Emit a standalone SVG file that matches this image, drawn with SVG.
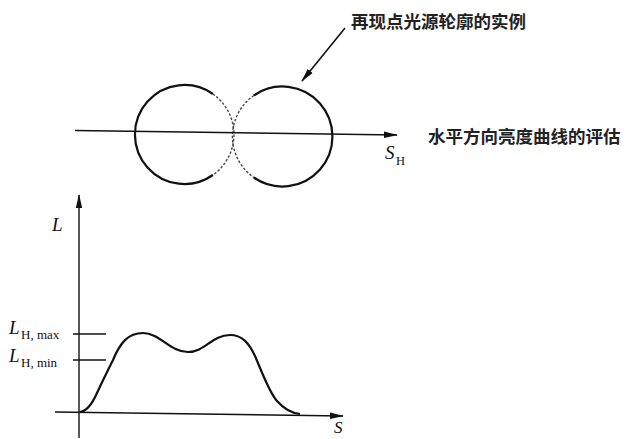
<svg xmlns="http://www.w3.org/2000/svg" width="638" height="439" viewBox="0 0 638 439">
<style>
.cjk{font-family:"Noto Sans CJK SC","Noto Sans",sans-serif;font-size:17.5px;fill:#222;font-weight:bold}
.it{font-family:"Liberation Serif",serif;font-style:italic;fill:#111}
.sub{font-family:"Liberation Serif",serif;fill:#111}
.ax{stroke:#111;stroke-width:1.4;fill:none}
.solid{stroke:#111;stroke-width:2.2;fill:none}
.dash{stroke:#444;stroke-width:1.4;fill:none;stroke-dasharray:2.5 1.8}
</style>
<defs>
<marker id="ah" markerWidth="14" markerHeight="8" refX="13" refY="4" orient="auto" markerUnits="userSpaceOnUse">
<path d="M0,0.8 L14,4 L0,7.2 Z" fill="#111"/>
</marker>
</defs>
<rect width="638" height="439" fill="#fff"/>
<g id="circles">
<path class="solid" d="M212.9,94 A49.5,49.5 0 1 0 212.9,175"/>
<path class="dash" d="M212.9,94 A49.5,49.5 0 0 1 212.9,175"/>
<path class="solid" d="M253.8,95.5 A50,50 0 1 1 253.8,177.5"/>
<path class="dash" d="M253.8,95.5 A50,50 0 0 0 253.8,177.5"/>
</g>
<g id="connectors">
<line class="ax" x1="75" y1="130.5" x2="397" y2="135" marker-end="url(#ah)"/>
<line x1="345" y1="28" x2="302" y2="81" stroke="#111" stroke-width="1.6" marker-end="url(#ah)"/>
<line class="ax" x1="79" y1="438" x2="79" y2="195" marker-end="url(#ah)"/>
<line class="ax" x1="55" y1="412" x2="343" y2="416" marker-end="url(#ah)"/>
<line class="ax" x1="73" y1="334" x2="106" y2="334"/>
<line class="ax" x1="73" y1="360" x2="106" y2="360"/>
</g>
<g id="curve">
<path class="solid" stroke-width="2" d="M80,412 C88,411 93,402 97,393 C103,380 108,370 113,360 C120,343 128,333 143,333 C160,333 170,352 188,352 C205,352 212,335 230,335 C242,335 249,343 255,356 C262,372 269,392 277,401 C284,409 291,413 300,414"/>
</g>
<g id="label-top">
<text class="cjk" x="351" y="28">再现点光源轮廓的实例</text>
</g>
<g id="label-right">
<text class="cjk" x="428" y="143">水平方向亮度曲线的评估</text>
</g>
<g id="sh">
<text class="it" x="385" y="159" font-size="19">S</text>
<text class="sub" x="396" y="165" font-size="12.5">H</text>
</g>
<g id="axis-labels">
<text class="it" x="52" y="231" font-size="19">L</text>
<text class="it" x="9" y="334" font-size="19">L</text>
<text class="sub" x="21" y="339" font-size="13">H, max</text>
<text class="it" x="9" y="362" font-size="19">L</text>
<text class="sub" x="21" y="367" font-size="13">H, min</text>
<text class="it" x="334" y="433" font-size="17">S</text>
</g>
</svg>
